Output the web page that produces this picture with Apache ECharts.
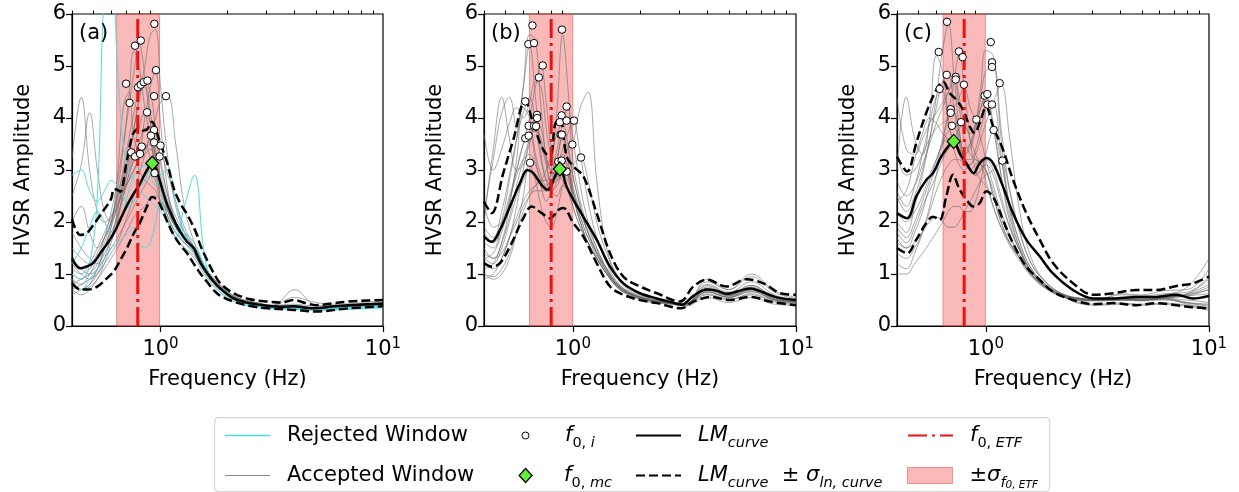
<!DOCTYPE html>
<html><head><meta charset="utf-8">
<script src="https://cdn.jsdelivr.net/npm/echarts@6/dist/echarts.min.js"></script>
<style>html,body{margin:0;padding:0;background:#fff}#c{width:1239px;height:492px}</style>
</head><body><div id="c"></div>
<script>
const FONT = 'DejaVu Sans';

// Frequency grid (Hz) on which the individual window curves are read
const FREQ_GRID = [0.40,0.44,0.48,0.52,0.56,0.60,0.64,0.68,0.72,0.76,0.80,0.85,0.90,0.95,1.00,1.08,1.17,1.28,1.42,1.6,1.85,2.2,2.7,3.2,4.0,5.0,6.3,8.0,10];
const X_MAJOR_TICKS = [1, 10];
const X_MINOR_TICKS = [0.4,0.5,0.6,0.7,0.8,0.9,2,3,4,5,6,7,8,9];
const PANEL_LABELS = ['(a)', '(b)', '(c)'];

// f0,ETF and its +/- sigma band per panel (Hz)
const F0_ETF = [0.79, 0.80, 0.80];
const F0_ETF_LOW = [0.635, 0.64, 0.643];
const F0_ETF_HIGH = [0.99, 1.0, 0.995];

// ---------- Panel (a) ----------
const ACC_A = [
 [1.0,0.9,1.1,1.3,1.5,1.8,2.1,2.6,3.2,3.8,4.4,5.0,5.6,5.7,4.6,3.2,2.3,1.8,1.4,1.0,0.7,0.5,0.42,0.38,0.40,0.35,0.37,0.40,0.42],
 [0.8,0.9,1.0,1.2,1.6,2.0,2.6,3.4,4.4,5.3,5.0,4.2,3.6,3.0,2.6,2.1,1.8,1.6,1.4,1.0,0.7,0.5,0.40,0.36,0.36,0.34,0.38,0.42,0.45],
 [1.2,1.0,0.9,1.1,1.5,1.9,2.9,4.2,4.5,3.6,3.4,4.0,4.6,4.9,3.9,2.6,2.0,1.7,1.5,1.1,0.75,0.5,0.42,0.38,0.38,0.34,0.37,0.41,0.44],
 [0.7,0.8,0.9,1.0,1.2,1.4,1.6,1.9,2.2,2.5,2.9,3.3,3.7,4.0,4.3,4.4,3.5,2.3,1.6,1.1,0.8,0.55,0.45,0.4,0.42,0.38,0.40,0.43,0.45],
 [3.2,4.4,3.0,2.2,2.0,2.1,2.3,2.6,2.9,3.2,3.3,3.4,3.5,3.3,2.9,2.4,2.0,1.7,1.5,1.05,0.72,0.52,0.42,0.37,0.36,0.33,0.36,0.40,0.43],
 [0.9,0.7,0.8,1.0,1.3,1.7,2.2,2.8,3.3,3.8,4.3,4.7,4.5,3.8,3.1,2.5,2.1,1.8,1.5,1.1,0.75,0.52,0.43,0.38,0.37,0.35,0.38,0.41,0.44],
 [1.5,1.3,1.2,1.4,1.7,2.0,2.4,2.8,3.1,3.4,3.8,4.1,3.9,3.3,2.7,2.2,1.9,1.7,1.5,1.1,0.78,0.55,0.44,0.38,0.38,0.35,0.38,0.41,0.43],
 [0.6,0.7,0.8,1.1,1.5,1.9,2.3,2.7,3.0,3.3,3.45,3.5,3.2,2.8,2.4,2.0,1.7,1.5,1.3,0.95,0.65,0.48,0.40,0.36,0.35,0.33,0.36,0.40,0.42],
 [2.0,2.3,1.8,1.5,1.7,2.0,2.5,2.9,3.2,3.3,3.0,2.8,2.7,2.6,2.4,2.0,1.7,1.5,1.35,1.0,0.7,0.5,0.41,0.37,0.36,0.34,0.37,0.40,0.42],
 [1.1,1.0,1.2,1.5,1.8,2.1,2.5,3.0,3.6,4.1,4.5,4.6,4.1,3.4,2.8,2.3,1.9,1.6,1.45,1.05,0.72,0.52,0.43,0.38,0.37,0.35,0.38,0.41,0.44],
 [0.8,0.7,0.75,0.9,1.1,1.3,1.5,1.7,1.9,2.1,2.2,2.3,2.45,2.5,2.4,2.2,1.9,1.7,1.5,1.1,0.78,0.55,0.45,0.4,0.55,0.45,0.42,0.45,0.48],
 [2.5,3.1,4.1,3.0,2.2,2.0,2.3,2.6,2.8,3.0,3.2,3.4,3.6,3.7,3.2,2.5,2.0,1.7,1.5,1.1,0.76,0.54,0.44,0.39,0.7,0.40,0.38,0.42,0.45],
 [1.3,1.1,1.0,1.1,1.3,1.5,1.7,1.9,2.1,2.3,2.5,2.7,2.9,3.1,3.25,2.9,2.4,1.9,1.5,1.0,0.7,0.5,0.4,0.35,0.34,0.32,0.35,0.38,0.41],
 [0.9,0.8,1.0,1.3,1.7,2.2,2.8,3.5,4.2,4.9,5.45,4.8,3.9,3.2,2.7,2.2,1.9,1.7,1.5,1.1,0.74,0.52,0.42,0.37,0.37,0.34,0.37,0.40,0.43],
 [0.7,0.6,0.7,0.9,1.2,1.6,2.0,2.5,2.9,3.2,3.5,3.8,3.6,3.0,2.5,2.1,1.8,1.6,1.4,1.0,0.7,0.5,0.42,0.38,0.37,0.34,0.37,0.40,0.43],
 [1.8,1.5,1.3,1.2,1.4,1.7,2.1,2.5,2.8,3.0,3.2,3.3,3.4,3.2,2.8,2.3,2.0,1.75,1.5,1.1,0.75,0.53,0.43,0.38,0.37,0.35,0.38,0.41,0.44]
];
const REJ_A = [
 [1.0,0.9,1.2,2.5,6.5,7.0,5.0,3.5,3.0,2.8,2.6,2.5,2.4,2.3,2.2,2.0,1.8,1.6,1.4,1.0,0.7,0.5,0.4,0.35,0.34,0.32,0.34,0.36,0.38],
 [2.9,3.0,2.6,2.4,2.6,2.8,2.7,2.5,2.3,2.4,2.6,2.8,3.0,3.0,2.8,2.3,2.0,1.8,1.6,1.1,0.7,0.48,0.38,0.34,0.33,0.31,0.32,0.34,0.36],
 [0.8,0.7,0.9,1.1,1.3,1.5,1.6,1.7,1.8,1.9,1.6,1.5,1.6,2.0,2.4,2.0,1.7,2.3,2.9,1.2,0.65,0.45,0.36,0.33,0.32,0.30,0.31,0.33,0.35],
 [1.2,1.5,1.9,2.2,2.0,1.8,1.9,2.2,2.6,2.9,3.0,3.1,2.9,2.7,2.9,3.0,2.4,1.8,1.4,1.0,0.7,0.5,0.40,0.36,0.35,0.33,0.35,0.37,0.40]
];
const LM_A = [[0.4,1.30],[0.436,1.11],[0.47,1.15],[0.50,1.22],[0.536,1.40],[0.575,1.58],[0.616,1.78],[0.66,2.05],[0.707,2.32],[0.758,2.55],[0.80,2.70],[0.84,2.88],[0.87,3.0],[0.916,3.13],[0.95,3.05],[0.991,2.80],[1.069,2.35],[1.146,2.05],[1.23,1.80],[1.316,1.62],[1.409,1.50],[1.46,1.35],[1.51,1.22],[1.618,1.02],[1.733,0.85],[1.857,0.72],[2.13,0.53],[2.5,0.44],[3.01,0.39],[3.5,0.37],[3.97,0.38],[4.5,0.35],[5.0,0.34],[6.0,0.38],[7.0,0.40],[8.5,0.42],[10,0.43]];
const LM_UP_A = [[0.4,2.05],[0.436,1.75],[0.47,1.80],[0.50,1.95],[0.55,2.2],[0.60,2.45],[0.616,2.63],[0.64,2.62],[0.66,2.58],[0.70,3.1],[0.735,3.55],[0.758,3.72],[0.80,3.80],[0.84,3.76],[0.87,3.78],[0.916,3.93],[0.95,3.80],[0.991,3.55],[1.069,3.15],[1.146,2.65],[1.23,2.35],[1.316,2.15],[1.409,1.90],[1.459,1.75],[1.51,1.55],[1.618,1.27],[1.733,1.02],[1.857,0.82],[2.13,0.63],[2.5,0.52],[3.01,0.47],[3.5,0.45],[3.97,0.50],[4.5,0.44],[5.0,0.40],[6.0,0.44],[7.0,0.47],[8.5,0.49],[10,0.50]];
const LM_LO_A = [[0.4,0.82],[0.436,0.70],[0.47,0.70],[0.50,0.72],[0.536,0.80],[0.575,0.92],[0.616,1.05],[0.66,1.27],[0.707,1.50],[0.758,1.78],[0.80,1.95],[0.87,2.30],[0.916,2.48],[0.95,2.45],[0.991,2.35],[1.069,2.02],[1.146,1.75],[1.23,1.55],[1.316,1.40],[1.409,1.20],[1.51,1.01],[1.618,0.85],[1.733,0.69],[1.857,0.58],[2.13,0.47],[2.5,0.39],[3.01,0.34],[3.97,0.31],[5.0,0.28],[7.0,0.34],[10,0.38]];
const F0I_A = [[0.938,5.81],[0.768,5.39],[0.815,5.49],[0.954,4.92],[0.70,4.66],[0.726,4.29],[0.792,4.59],[0.815,4.64],[0.84,4.69],[0.873,4.72],[0.935,4.42],[1.058,4.42],[0.87,4.11],[0.935,3.77],[0.906,3.66],[0.935,3.53],[1.0,3.47],[0.823,3.45],[0.739,3.34],[0.768,3.26],[0.809,3.31],[0.99,3.26],[0.94,2.94]];
const F0MC_A = [[0.918,3.13]];

// ---------- Panel (b) ----------
const ACC_B = [
 [1.6,1.5,2.0,2.8,3.6,4.6,5.6,5.5,4.2,3.2,2.6,2.5,2.7,2.6,2.3,1.9,1.6,1.3,1.0,0.75,0.6,0.5,0.45,0.42,0.7,0.6,0.75,0.55,0.48],
 [1.3,1.2,1.5,2.0,2.5,2.8,3.0,2.9,2.7,2.6,3.0,4.2,5.6,4.6,3.2,2.4,1.9,1.5,1.1,0.8,0.62,0.52,0.46,0.43,0.75,0.62,0.7,0.52,0.46],
 [2.2,3.2,4.1,4.4,3.8,4.6,5.4,4.4,3.3,2.8,2.6,2.7,2.9,2.8,2.5,2.0,1.6,1.3,1.0,0.72,0.58,0.49,0.44,0.40,0.65,0.55,0.72,0.55,0.47],
 [1.8,1.6,1.9,2.4,3.0,3.5,4.0,4.6,5.0,4.3,3.4,2.9,2.8,2.6,2.3,1.9,1.6,1.3,1.0,0.74,0.6,0.5,0.45,0.42,0.8,0.65,0.85,0.6,0.5],
 [3.7,3.0,3.4,3.9,4.2,4.0,4.3,4.7,4.6,3.8,3.3,3.2,3.3,3.0,2.6,2.1,1.7,1.4,1.1,0.8,0.62,0.52,0.46,0.43,0.72,0.58,0.68,0.5,0.45],
 [1.1,1.2,1.6,2.3,3.2,4.2,4.0,3.3,2.9,2.7,2.8,3.2,3.6,3.4,2.9,2.3,1.8,1.4,1.05,0.76,0.6,0.5,0.44,0.41,0.68,0.55,0.7,0.52,0.46],
 [1.4,1.3,1.6,2.1,2.7,3.2,3.6,3.85,3.6,3.2,3.0,3.4,3.9,4.2,3.6,2.7,2.0,1.5,1.1,0.78,0.6,0.5,0.45,0.42,0.85,0.7,0.95,0.65,0.52],
 [1.2,1.1,1.3,1.7,2.3,3.0,3.6,4.0,3.8,3.3,3.0,3.1,3.4,3.7,3.95,3.3,2.4,1.7,1.2,0.82,0.62,0.5,0.44,0.40,0.6,0.5,0.62,0.48,0.44],
 [2.4,1.9,2.0,2.5,3.0,3.5,3.65,3.2,2.7,2.4,2.6,3.2,3.65,3.2,2.6,2.1,1.7,1.35,1.05,0.76,0.6,0.5,0.44,0.41,0.66,0.55,0.66,0.5,0.46],
 [1.0,0.95,1.1,1.4,1.8,2.2,2.5,2.7,2.8,2.8,2.9,3.0,3.2,3.4,3.5,4.2,4.5,2.8,1.5,0.9,0.65,0.52,0.46,0.42,0.9,0.7,1.0,0.68,0.55],
 [1.5,1.3,1.4,1.7,2.0,2.3,2.5,2.6,2.6,2.6,2.7,2.8,2.9,3.0,3.1,3.24,2.8,2.0,1.4,0.95,0.68,0.54,0.47,0.43,0.78,0.62,0.78,0.56,0.5],
 [1.0,0.9,1.0,1.3,1.8,2.5,3.1,2.8,2.3,2.0,1.9,2.2,2.7,2.95,2.5,2.0,1.6,1.3,1.0,0.72,0.56,0.46,0.42,0.38,0.55,0.45,0.55,0.42,0.40],
 [2.0,3.4,4.4,3.6,3.0,3.1,3.5,3.8,3.5,3.1,2.8,2.9,3.1,2.9,2.5,2.0,1.6,1.3,1.0,0.74,0.58,0.48,0.43,0.40,0.62,0.52,0.6,0.46,0.42],
 [0.9,1.0,1.3,1.7,2.1,2.4,2.6,2.7,2.8,3.0,3.3,3.7,3.9,3.5,2.9,2.3,1.8,1.4,1.05,0.75,0.58,0.48,0.43,0.40,0.7,0.58,0.78,0.55,0.47],
 [1.9,1.7,2.2,2.9,3.6,4.1,4.4,3.9,3.2,2.8,2.7,2.9,3.2,3.1,2.7,2.2,1.8,1.4,1.05,0.76,0.6,0.5,0.45,0.41,0.72,0.58,0.7,0.52,0.47],
 [1.3,1.4,1.8,2.4,2.9,3.2,3.3,3.1,2.8,2.6,2.6,2.8,3.0,2.9,2.6,2.2,1.8,1.45,1.1,0.78,0.6,0.5,0.45,0.41,0.66,0.55,0.66,0.5,0.46]
];
const REJ_B = [];
const LM_B = [[0.4,1.72],[0.433,1.62],[0.472,1.85],[0.523,2.3],[0.58,2.75],[0.626,3.0],[0.665,2.94],[0.725,2.71],[0.777,2.62],[0.818,2.81],[0.876,3.04],[0.938,2.68],[1.005,2.43],[1.115,2.1],[1.279,1.66],[1.468,1.14],[1.684,0.82],[2.0,0.63],[2.38,0.53],[2.75,0.46],[3.07,0.41],[3.47,0.58],[3.98,0.70],[4.4,0.68],[4.89,0.62],[5.81,0.70],[6.3,0.72],[6.9,0.67],[8.2,0.55],[10,0.50]];
const LM_UP_B = [[0.4,2.39],[0.433,2.17],[0.488,2.94],[0.541,3.58],[0.611,4.33],[0.665,3.9],[0.725,3.45],[0.777,3.29],[0.804,3.33],[0.832,3.87],[0.876,4.0],[0.938,3.26],[1.005,3.07],[1.115,2.88],[1.279,2.17],[1.468,1.40],[1.684,0.95],[2.0,0.76],[2.38,0.63],[3.02,0.47],[3.47,0.76],[3.98,0.89],[4.89,0.76],[6.0,0.90],[7.14,0.82],[8.5,0.63],[10,0.60]];
const LM_LO_B = [[0.4,1.21],[0.433,1.14],[0.472,1.21],[0.523,1.53],[0.60,2.07],[0.654,2.3],[0.725,2.17],[0.79,2.07],[0.861,2.23],[0.907,2.27],[1.005,1.98],[1.115,1.72],[1.279,1.21],[1.468,0.76],[1.684,0.60],[2.0,0.50],[2.38,0.44],[3.07,0.34],[3.47,0.47],[4.2,0.56],[5.0,0.50],[6.3,0.56],[7.64,0.47],[10,0.40]];
const F0I_B = [[0.659,5.78],[0.632,5.42],[0.670,5.44],[0.894,5.70],[0.733,5.01],[0.705,4.78],[0.612,4.32],[0.634,3.85],[0.670,3.85],[0.691,4.06],[0.692,4.0],[0.684,3.84],[0.612,3.61],[0.634,3.66],[0.643,3.14],[0.938,4.22],[0.891,4.05],[0.875,3.92],[0.938,3.95],[1.012,3.95],[0.882,3.68],[0.893,3.68],[0.995,3.49],[1.088,3.24],[0.861,3.16],[0.891,3.18],[0.938,2.97]];
const F0MC_B = [[0.875,3.02]];

// ---------- Panel (c) ----------
const ACC_C = [
 [2.0,1.8,2.3,2.9,3.6,4.4,5.3,5.8,4.8,3.8,3.2,3.0,3.1,3.2,3.0,2.5,2.0,1.6,1.3,1.0,0.75,0.58,0.5,0.5,0.52,0.52,0.55,0.6,0.75],
 [3.0,4.4,3.6,3.3,4.0,5.2,4.9,4.0,3.4,3.1,3.0,3.1,3.2,3.1,2.8,2.3,1.9,1.55,1.25,0.95,0.72,0.56,0.48,0.48,0.5,0.5,0.52,0.5,0.45],
 [1.6,1.5,1.8,2.2,2.7,3.1,3.6,4.1,4.7,5.25,4.6,3.6,3.0,2.8,2.7,2.3,1.9,1.6,1.3,0.98,0.74,0.57,0.5,0.5,0.52,0.5,0.53,0.58,0.7],
 [1.8,1.6,1.9,2.3,2.6,2.9,3.2,3.4,3.5,3.4,3.3,3.5,3.9,4.6,5.3,5.2,3.6,2.3,1.6,1.1,0.8,0.6,0.52,0.5,0.6,0.58,0.62,0.65,0.95],
 [2.5,2.2,2.5,3.0,3.6,4.2,4.7,4.8,4.2,3.6,3.3,3.4,3.8,4.4,4.9,5.0,3.8,2.6,1.8,1.2,0.85,0.62,0.52,0.5,0.53,0.52,0.55,0.62,0.8],
 [1.4,1.3,1.5,1.8,2.2,2.6,2.9,3.1,3.2,3.2,3.1,3.1,3.3,3.6,3.9,4.3,4.65,3.6,2.2,1.3,0.85,0.62,0.53,0.52,0.62,0.6,0.68,0.7,1.1],
 [2.8,2.5,2.7,3.1,3.5,3.9,4.2,4.5,4.8,4.4,3.9,3.7,3.9,4.2,4.4,3.8,2.9,2.1,1.5,1.05,0.78,0.6,0.52,0.5,0.52,0.5,0.54,0.45,0.4],
 [3.3,2.9,3.0,3.3,3.6,3.8,3.9,4.0,4.2,4.4,4.6,4.2,3.95,3.6,3.2,2.7,2.2,1.75,1.35,1.0,0.76,0.58,0.5,0.49,0.5,0.5,0.52,0.42,0.35],
 [1.2,1.1,1.4,1.8,2.3,2.9,3.5,4.0,4.1,3.7,3.4,3.5,3.8,4.2,4.45,3.9,2.9,2.0,1.45,1.0,0.75,0.57,0.44,0.42,0.44,0.42,0.44,0.40,0.32],
 [2.2,2.0,2.2,2.5,2.9,3.2,3.5,3.75,3.8,3.5,3.2,3.2,3.4,3.8,4.1,4.25,3.3,2.2,1.5,1.05,0.78,0.6,0.52,0.5,0.55,0.55,0.6,0.75,1.3],
 [2.6,2.3,2.7,3.3,3.9,4.4,4.5,3.9,3.6,3.8,3.9,3.6,3.3,3.1,3.0,2.5,2.0,1.6,1.3,0.98,0.74,0.57,0.5,0.49,0.5,0.5,0.52,0.44,0.38],
 [1.0,1.0,1.2,1.4,1.6,1.8,2.0,2.2,2.3,2.3,2.2,2.2,2.4,2.8,3.3,3.75,3.2,2.3,1.6,1.1,0.8,0.58,0.42,0.4,0.42,0.4,0.42,0.38,0.3],
 [1.7,1.5,1.6,1.8,2.0,2.1,2.0,1.9,1.9,2.0,2.2,2.4,2.6,2.8,2.9,3.0,3.15,2.6,1.8,1.2,0.85,0.62,0.53,0.51,0.53,0.52,0.55,0.62,0.9],
 [4.4,3.4,3.3,3.6,3.9,4.1,4.3,4.5,4.7,4.2,3.6,3.3,3.2,3.1,3.0,2.6,2.1,1.7,1.35,1.0,0.76,0.58,0.5,0.49,0.5,0.48,0.5,0.45,0.42],
 [2.4,2.6,3.2,3.7,4.0,3.9,3.7,3.6,3.5,3.3,3.1,3.0,2.9,3.0,3.2,3.0,2.5,1.9,1.45,1.05,0.78,0.6,0.52,0.5,0.52,0.5,0.54,0.6,0.7],
 [1.9,1.7,2.0,2.4,2.8,3.2,3.5,3.6,3.6,3.4,3.2,3.0,2.9,3.0,3.1,2.9,2.4,1.9,1.45,1.05,0.78,0.6,0.52,0.5,0.52,0.5,0.54,0.58,0.62]
];
const REJ_C = [];
const LM_C = [[0.4,2.17],[0.444,2.07],[0.488,2.49],[0.541,2.81],[0.58,2.94],[0.632,3.26],[0.677,3.45],[0.718,3.55],[0.764,3.32],[0.818,3.13],[0.882,2.94],[0.938,3.13],[1.005,3.23],[1.077,3.13],[1.194,2.68],[1.324,2.17],[1.519,1.66],[1.743,1.34],[2.0,1.01],[2.46,0.69],[3.02,0.53],[3.72,0.53],[4.73,0.56],[5.81,0.56],[7.14,0.60],[8.48,0.53],[10,0.58]];
const LM_UP_C = [[0.4,3.26],[0.444,2.97],[0.488,3.52],[0.541,4.1],[0.60,4.54],[0.643,4.7],[0.689,4.48],[0.738,4.35],[0.79,4.16],[0.847,3.84],[0.891,3.71],[0.938,3.9],[1.005,4.22],[1.077,3.84],[1.194,3.39],[1.324,2.81],[1.519,2.17],[1.743,1.66],[2.0,1.21],[2.46,0.82],[3.02,0.60],[3.72,0.63],[4.73,0.69],[5.81,0.69],[7.14,0.77],[8.48,0.82],[10,0.95]];
const LM_LO_C = [[0.4,1.5],[0.444,1.4],[0.488,1.66],[0.541,1.98],[0.58,2.1],[0.621,2.04],[0.665,2.49],[0.713,2.91],[0.764,2.62],[0.832,2.39],[0.876,2.3],[0.938,2.36],[1.005,2.59],[1.077,2.49],[1.194,2.04],[1.324,1.59],[1.519,1.14],[1.743,0.89],[2.0,0.66],[2.46,0.50],[3.02,0.42],[3.72,0.44],[4.73,0.40],[5.81,0.44],[7.14,0.40],[8.48,0.36],[10,0.34]];
const F0I_C = [[0.67,5.85],[0.615,5.27],[0.758,5.28],[0.787,5.17],[1.052,5.46],[1.066,5.07],[1.066,4.98],[1.154,4.67],[0.621,4.56],[0.668,4.83],[0.733,4.79],[0.733,4.74],[0.798,4.64],[0.696,4.17],[0.696,4.10],[0.705,3.85],[0.774,3.92],[0.907,3.97],[0.988,4.43],[1.016,4.46],[1.016,4.26],[1.066,4.26],[1.084,3.77],[1.186,3.18]];
const F0MC_C = [[0.718,3.55]];

// ---------- Legend names ----------
const N_REJ = 'Rejected Window', N_ACC = 'Accepted Window', N_F0I = 'f0,i', N_F0MC = 'f0,mc',
      N_LM = 'LMcurve', N_LMS = 'LMcurve ± σln,curve', N_ETF = 'f0,ETF', N_ETFS = '±σf0,ETF';

// ---------- styles ----------
const GRAY = 'rgba(105,105,105,0.68)';
const CYAN = '#4fdbe2';
const BAND = 'rgba(238,70,70,0.38)';
const BAND_EDGE = 'rgba(225,80,80,0.55)';
const RED_DASH = [19,5,3,5];
const BLK_DASH = [9,4];
const NO_SYMBOL = {color: 'rgba(0,0,0,0)', borderColor: 'rgba(0,0,0,0)', borderWidth: 0};

const panels = [
  {acc: ACC_A, rej: REJ_A, lm: LM_A, up: LM_UP_A, lo: LM_LO_A, f0i: F0I_A, f0mc: F0MC_A},
  {acc: ACC_B, rej: REJ_B, lm: LM_B, up: LM_UP_B, lo: LM_LO_B, f0i: F0I_B, f0mc: F0MC_B},
  {acc: ACC_C, rej: REJ_C, lm: LM_C, up: LM_UP_C, lo: LM_LO_C, f0i: F0I_C, f0mc: F0MC_C}
];
const gridLefts = [72, 484, 897];
const gridW = [311, 312, 312];

const grids = [], xAxes = [], yAxes = [], series = [], titles = [];
const tickRich = {
  m: {fontFamily: FONT, fontSize: 21, color: '#000', lineHeight: 26},
  sup: {fontFamily: FONT, fontSize: 15, color: '#000', lineHeight: 14, verticalAlign: 'top'}
};
panels.forEach((p, i) => {
  grids.push({left: gridLefts[i], top: 14, width: gridW[i], height: 312, show: true,
    borderColor: '#000', borderWidth: 1.2, backgroundColor: 'transparent', containLabel: false});
  xAxes.push({type: 'log', logBase: 10, gridIndex: i, min: 0.4, max: 10,
    axisLine: {show: true, lineStyle: {color: '#000', width: 1.2}},
    axisTick: {show: true, length: 6, customValues: X_MAJOR_TICKS, lineStyle: {color: '#000', width: 1.2}},
    axisLabel: {customValues: X_MAJOR_TICKS, margin: 11, color: '#000',
      formatter: v => (v < 5 ? '{m|10}{sup|0}' : '{m|10}{sup|1}'), rich: tickRich},
    splitLine: {show: false}, minorTick: {show: false},
    name: 'Frequency (Hz)', nameLocation: 'middle', nameGap: 43,
    nameTextStyle: {fontFamily: FONT, fontSize: 21, color: '#000'}});
  xAxes.push({type: 'log', logBase: 10, gridIndex: i, min: 0.4, max: 10,
    axisLine: {show: false},
    axisTick: {show: true, length: 3.5, customValues: X_MINOR_TICKS, lineStyle: {color: '#000', width: 1}},
    axisLabel: {show: false}, splitLine: {show: false}});
  yAxes.push({type: 'value', gridIndex: i, min: 0, max: 6, interval: 1,
    axisLine: {show: true, lineStyle: {color: '#000', width: 1.2}},
    axisTick: {show: true, length: 6, lineStyle: {color: '#000', width: 1.2}},
    axisLabel: {fontFamily: FONT, fontSize: 21, color: '#000', margin: 6},
    splitLine: {show: false},
    name: 'HVSR Amplitude', nameLocation: 'middle', nameGap: 38, nameRotate: 90,
    nameTextStyle: {fontFamily: FONT, fontSize: 21, color: '#000'}});
  titles.push({text: PANEL_LABELS[i], left: gridLefts[i] + 7, top: 23, padding: 0,
    textStyle: {fontFamily: FONT, fontSize: 21, fontWeight: 'normal', color: '#000'}});

  const xi = 2 * i, yi = i;
  series.push({type: 'line', name: N_ETFS, xAxisIndex: xi, yAxisIndex: yi, data: [], z: 1, silent: true,
    markArea: {silent: true, label: {show: false}, itemStyle: {color: BAND, borderColor: BAND_EDGE, borderWidth: 1},
      data: [[{xAxis: F0_ETF_LOW[i]}, {xAxis: F0_ETF_HIGH[i]}]]}});
  p.acc.forEach(v => series.push({type: 'line', name: N_ACC, xAxisIndex: xi, yAxisIndex: yi,
    data: FREQ_GRID.map((f, k) => [f, v[k]]), smooth: 0.4, symbol: 'none', silent: true, z: 2,
    lineStyle: {color: GRAY, width: 0.85}, itemStyle: {color: GRAY}}));
  p.rej.forEach(v => series.push({type: 'line', name: N_REJ, xAxisIndex: xi, yAxisIndex: yi,
    data: FREQ_GRID.map((f, k) => [f, v[k]]), smooth: 0.4, symbol: 'none', silent: true, z: 3,
    lineStyle: {color: CYAN, width: 1}, itemStyle: {color: CYAN}}));
  series.push({type: 'line', name: N_LMS, xAxisIndex: xi, yAxisIndex: yi, data: p.up, smooth: 0.35,
    symbol: 'none', z: 4, lineStyle: {color: '#000', width: 2.5, type: BLK_DASH}, itemStyle: {color: '#000'}});
  series.push({type: 'line', name: N_LMS, xAxisIndex: xi, yAxisIndex: yi, data: p.lo, smooth: 0.35,
    symbol: 'none', z: 4, lineStyle: {color: '#000', width: 2.5, type: BLK_DASH}, itemStyle: {color: '#000'}});
  series.push({type: 'line', name: N_LM, xAxisIndex: xi, yAxisIndex: yi, data: p.lm, smooth: 0.35,
    symbol: 'none', z: 4, lineStyle: {color: '#000', width: 2.5}, itemStyle: {color: '#000'}});
  series.push({type: 'line', name: N_ETF, xAxisIndex: xi, yAxisIndex: yi, data: [[F0_ETF[i], 0], [F0_ETF[i], 6]],
    symbol: 'none', z: 5, lineStyle: {color: '#ee1111', width: 3, type: RED_DASH}, itemStyle: {color: '#ee1111'}});
  series.push({type: 'scatter', name: N_F0I, xAxisIndex: xi, yAxisIndex: yi, data: p.f0i, symbol: 'circle',
    symbolSize: 7.5, z: 6, itemStyle: {color: '#fff', borderColor: '#000', borderWidth: 1, opacity: 1}});
  series.push({type: 'scatter', name: N_F0MC, xAxisIndex: xi, yAxisIndex: yi, data: p.f0mc, symbol: 'diamond',
    symbolSize: [13, 14], z: 7, itemStyle: {color: '#62ee3a', borderColor: '#000', borderWidth: 1.2, opacity: 1}});
});

// ---------- legend ----------
const base = {fontFamily: FONT, fontSize: 21, color: '#000', lineHeight: 30};
const legRich = {
  sp: {width: 12, lineHeight: 30},
  sp2: {width: 27, lineHeight: 30},
  n: Object.assign({}, base),
  it: Object.assign({}, base, {fontStyle: 'italic'}),
  s: {fontFamily: FONT, fontSize: 14.5, color: '#000', lineHeight: 14, verticalAlign: 'bottom'},
  si: {fontFamily: FONT, fontSize: 14.5, color: '#000', lineHeight: 14, verticalAlign: 'bottom', fontStyle: 'italic'},
  ss: {fontFamily: FONT, fontSize: 10.5, color: '#000', lineHeight: 8, verticalAlign: 'bottom', fontStyle: 'italic'}
};
const legFmt = {};
legFmt[N_REJ] = '{sp|}{n|Rejected Window}';
legFmt[N_ACC] = '{sp|}{n|Accepted Window}';
legFmt[N_F0I] = '{sp|}{it|f}{s|0, }{si|i}';
legFmt[N_F0MC] = '{sp2|}{it|f}{s|0, }{si|mc}';
legFmt[N_LM] = '{sp|}{it|LM}{si|curve}';
legFmt[N_LMS] = '{sp|}{it|LM}{si|curve}{n|  ± }{it|σ}{si|ln, curve}';
legFmt[N_ETF] = '{sp|}{it|f}{s|0, }{si|ETF}';
legFmt[N_ETFS] = '{sp|}{n|±}{it|σ}{si|f}{ss|0, ETF}';

const ROW1 = 425, ROW2 = 465;
function leg(item, left, top, ih, iw, keep) {
  return {show: true, orient: 'horizontal', left: left, top: top, padding: 0, itemGap: 0,
    itemWidth: iw || 45, itemHeight: ih, selectedMode: false, symbolKeepAspect: keep !== false, data: [item],
    formatter: name => legFmt[name], textStyle: {rich: legRich}};
}
const legends = [
  leg({name: N_REJ, icon: 'rect', itemStyle: {color: CYAN, borderWidth: 0}}, 225, ROW1, 1.3, 45, false),
  leg({name: N_ACC, icon: 'rect', itemStyle: {color: 'rgba(105,105,105,0.8)', borderWidth: 0}}, 225, ROW2, 1, 45, false),
  leg({name: N_F0I, icon: 'circle', itemStyle: {color: '#fff', borderColor: '#000', borderWidth: 1}}, 525 - 3.5, ROW1, 7),
  leg({name: N_F0MC, icon: 'diamond', itemStyle: {color: '#62ee3a', borderColor: '#000', borderWidth: 1.2}}, 525 - 6.5, ROW2, 14, 13),
  leg({name: N_LM, itemStyle: NO_SYMBOL}, 635, ROW1, 14),
  leg({name: N_LMS, itemStyle: NO_SYMBOL}, 635, ROW2, 14),
  leg({name: N_ETF, itemStyle: NO_SYMBOL}, 907, ROW1, 14),
  leg({name: N_ETFS, icon: 'rect', itemStyle: {color: BAND, borderColor: BAND_EDGE, borderWidth: 1}}, 907, ROW2, 16)
];

const chart = echarts.init(document.getElementById('c'), null, {renderer: 'canvas'});
chart.setOption({
  animation: false,
  backgroundColor: '#fff',
  title: titles,
  grid: grids, xAxis: xAxes, yAxis: yAxes,
  legend: legends,
  graphic: [{type: 'rect', left: 214, top: 417, z: 0,
    shape: {width: 835, height: 74, r: 4}, style: {fill: '#fff', stroke: '#d6d6d6', lineWidth: 1.2}}],
  series: series
});
</script></body></html>
